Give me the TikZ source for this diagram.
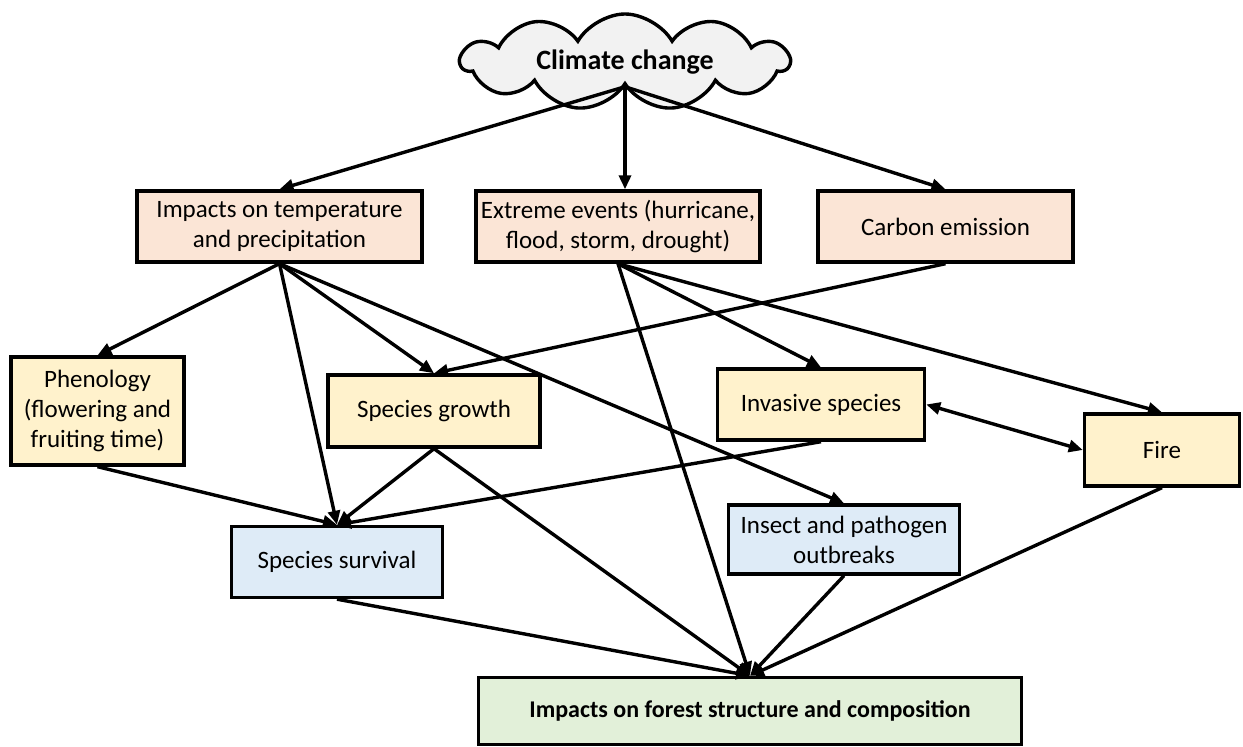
\documentclass[tikz,border=0pt]{standalone}
\usepackage{fontspec}
\setmainfont{Carlito}
\usetikzlibrary{arrows.meta,shapes.symbols}
\definecolor{peach}{HTML}{FBE5D6}
\definecolor{cream}{HTML}{FFF2CC}
\definecolor{paleblue}{HTML}{DEEBF7}
\definecolor{palegreen}{HTML}{E2F0D9}
\definecolor{cloudgray}{HTML}{F2F2F2}

\begin{document}
\begin{tikzpicture}[x=0.5pt,y=-0.5pt,
	box/.style={draw,line width=1.7pt,align=center,inner sep=0pt,font=\fontsize{12.5}{15}\selectfont},
	arr/.style={line width=1.7pt,-{Triangle[length=7pt,width=6pt]}},
	darr/.style={line width=1.7pt,{Triangle[length=7pt,width=6pt]}-{Triangle[length=7pt,width=6pt]}}]
	\useasboundingbox (0,0) rectangle (1243,747);
	%\draw[step=50,gray,very thin] (0,0) grid (1243,747);
	% top
	\node[cloud,cloud puffs=11,cloud puff arc=120,cloud ignores aspect,draw,line width=1.7pt,fill=cloudgray,
		minimum width=164pt,minimum height=48pt,inner sep=0pt,
		font=\bfseries\fontsize{14}{16}\selectfont] (cloud) at (625,62) {Climate change};
	% first row
	\node[box,fill=peach,minimum width=142.5pt,minimum height=35.5pt] (imptp) at (279.5,226.5) {Impacts on temperature\\and precipitation};
	\node[box,fill=peach,minimum width=142pt,minimum height=35.5pt] (extreme) at (618,226.5) {Extreme events (hurricane,\\flood, storm, drought)};
	\node[box,fill=peach,minimum width=127.5pt,minimum height=35.5pt] (carbon) at (945.5,226.5) {Carbon emission};
	% second row
	\node[box,fill=cream,minimum width=86.5pt,minimum height=54pt] (pheno) at (97.5,411) {Phenology\\(flowering and\\fruiting time)};
	\node[box,fill=cream,minimum width=106pt,minimum height=36pt] (growth) at (434,411) {Species growth};
	\node[box,fill=cream,minimum width=103.5pt,minimum height=35.5pt] (invasive) at (821,404.5) {Invasive species};
	\node[box,fill=cream,minimum width=77.5pt,minimum height=36pt] (fire) at (1162,450) {Fire};
	% third row
	\node[box,fill=paleblue,minimum width=105.5pt,minimum height=35.5pt] (survival) at (337,562) {Species survival};
	\node[box,fill=paleblue,minimum width=115.5pt,minimum height=34.5pt] (insect) at (844,539.5) {Insect and pathogen\\outbreaks};
	% bottom
	\node[box,fill=palegreen,minimum width=271.5pt,minimum height=33.5pt,font=\bfseries\fontsize{12}{14}\selectfont] (final) at (750,711) {Impacts on forest structure and composition};

	\draw[arr] (cloud.south) -- (imptp.north);
	\draw[arr] (cloud.south) -- (cloud.south |- extreme.north);
	\draw[arr] (cloud.south) -- (carbon.north);
	\draw[arr] (imptp.south) -- (pheno.north);
	\draw[arr] (imptp.south) -- (survival.north);
	\draw[arr] (imptp.south) -- (growth.north);
	\draw[arr] (imptp.south) -- (insect.north);
	\draw[arr] (extreme.south) -- (final.north);
	\draw[arr] (extreme.south) -- (invasive.north);
	\draw[arr] (extreme.south) -- (fire.north);
	\draw[arr] (carbon.south) -- (growth.north);
	\draw[arr] (pheno.south) -- (survival.north);
	\draw[arr] (growth.south) -- (survival.north);
	\draw[arr] (growth.south) -- (final.north);
	\draw[arr] (invasive.south) -- (survival.north);
	\draw[darr] (invasive.east) -- (fire.west);
	\draw[arr] (survival.south) -- (final.north);
	\draw[arr] (insect.south) -- (final.north);
	\draw[arr] (fire.south) -- (final.north);
\end{tikzpicture}
\end{document}
